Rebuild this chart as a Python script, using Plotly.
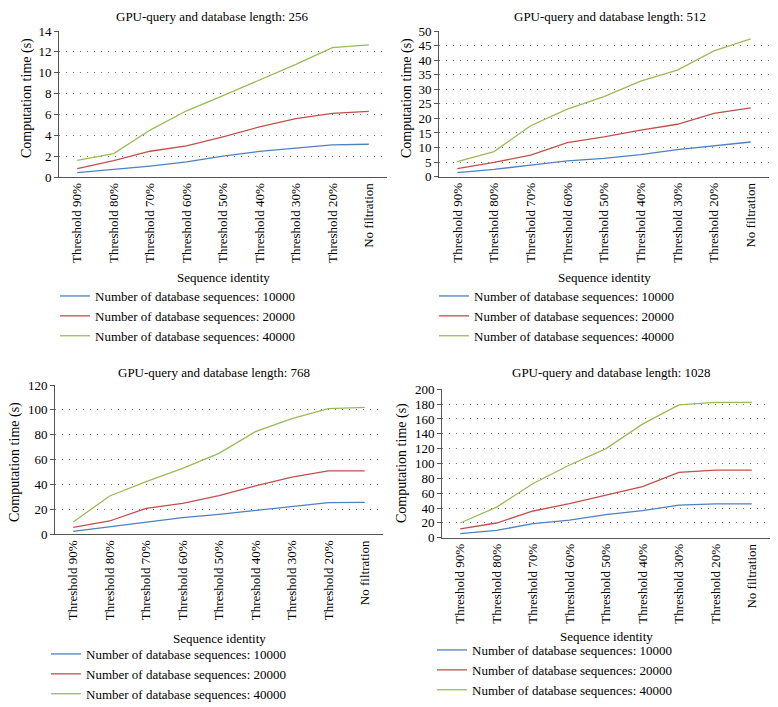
import plotly.graph_objects as go

# The page body has an 8px margin, so the figure is drawn 8px in from the window corner.
OFF = 8
W, H = 778 - OFF, 707 - OFF

categories = ["Threshold 90%", "Threshold 80%", "Threshold 70%", "Threshold 60%",
              "Threshold 50%", "Threshold 40%", "Threshold 30%", "Threshold 20%",
              "No filtration"]
series_names = ["Number of database sequences: 10000",
                "Number of database sequences: 20000",
                "Number of database sequences: 40000"]
colors = ["#4F81BD", "#C0504D", "#9BBB59"]

titles = ["GPU-query and database length: 256", "GPU-query and database length: 512",
          "GPU-query and database length: 768", "GPU-query and database length: 1028"]

len256_10000 = [0.42, 0.7, 1.05, 1.44, 2.0, 2.45, 2.8, 3.08, 3.14]
len256_20000 = [0.8, 1.57, 2.47, 2.98, 3.85, 4.8, 5.6, 6.1, 6.3]
len256_40000 = [1.6, 2.24, 4.5, 6.35, 7.8, 9.3, 10.8, 12.4, 12.66]

len512_10000 = [1.4, 2.5, 4.0, 5.4, 6.3, 7.6, 9.3, 10.6, 11.9]
len512_20000 = [2.75, 4.9, 7.4, 11.7, 13.7, 16.0, 18.0, 21.7, 23.6]
len512_40000 = [5.15, 8.6, 17.5, 23.2, 27.5, 32.8, 36.6, 43.2, 47.3]

len768_10000 = [2.4, 6.2, 9.9, 13.4, 16.0, 19.0, 22.5, 25.5, 25.7]
len768_20000 = [5.6, 10.7, 20.9, 24.9, 31.0, 39.0, 46.0, 51.0, 51.0]
len768_40000 = [9.9, 30.8, 42.4, 53.0, 65.0, 82.5, 93.0, 101.0, 102.0]

len1028_10000 = [5.4, 9.9, 18.9, 23.8, 31.0, 36.4, 44.0, 45.5, 45.5]
len1028_20000 = [12.0, 19.8, 36.0, 45.8, 57.5, 68.8, 88.0, 91.0, 91.0]
len1028_40000 = [19.8, 41.3, 73.0, 98.0, 120.0, 153.0, 179.0, 182.5, 182.5]

panel_data = [
    [len256_10000, len256_20000, len256_40000],
    [len512_10000, len512_20000, len512_40000],
    [len768_10000, len768_20000, len768_40000],
    [len1028_10000, len1028_20000, len1028_40000],
]
y_max = [14, 50, 120, 200]
y_dtick = [2, 5, 20, 20]

# layout in window pixels: (left, right, top, bottom)
boxes = [(59, 387, 31, 177), (439, 769, 31, 176.7), (55, 383, 385, 534.3), (442, 770, 389.3, 537.7)]
title_pos = [(213, 8), (610, 8), (214, 364), (611, 364)]   # top edge of title box
ytitle_pos = [(27, 98), (407, 98), (15, 462), (402, 463)]
xtitle_pos = [(223, 277), (604, 277), (220, 638), (606, 636)]
legend_pos = [(55, 281), (434, 281), (46, 639), (432, 635)]


def fx(px):
    return (px - OFF) / W


def fy(py):
    return 1 - (py - OFF) / H


FONT = "Liberation Serif, Times New Roman, DejaVu Serif, serif"
fig = go.Figure()
annotations = []
layout = {}

for i in range(4):
    ax = "" if i == 0 else str(i + 1)
    leg = "legend" if i == 0 else "legend" + str(i + 1)
    for s in range(3):
        fig.add_trace(go.Scatter(
            x=categories, y=panel_data[i][s], name=series_names[s], mode="lines",
            line=dict(color=colors[s], width=1.3),
            xaxis="x" + ax, yaxis="y" + ax, legend=leg, showlegend=True))
    l, r, t, b = boxes[i]
    layout["xaxis" + ax] = dict(
        domain=[fx(l), fx(r)], anchor="y" + ax, type="category", automargin=False,
        range=[-0.5, 8.5], tickangle=-90, showgrid=False, showline=True,
        linecolor="#555", linewidth=1, ticks="", tickfont=dict(family=FONT, size=13, color="#000"),
        fixedrange=True)
    layout["yaxis" + ax] = dict(
        domain=[fy(b), fy(t)], anchor="x" + ax, range=[0, y_max[i]], automargin=False,
        dtick=y_dtick[i], tick0=0, showgrid=True, gridcolor="#777", gridwidth=1,
        griddash="1px,6px", zeroline=False, showline=True, linecolor="#555",
        linewidth=1, ticks="outside", ticklen=4, tickcolor="#555",
        tickfont=dict(family=FONT, size=13, color="#000"), fixedrange=True)
    lx, ly = legend_pos[i]
    layout[leg] = dict(
        x=fx(lx), y=fy(ly), xanchor="left", yanchor="top", orientation="v",
        font=dict(family=FONT, size=13, color="#000"), bgcolor="rgba(0,0,0,0)",
        itemwidth=30, tracegroupgap=0)
    tx, ty = title_pos[i]
    annotations.append(dict(text=titles[i], x=fx(tx), y=fy(ty), xref="paper", yref="paper",
                            showarrow=False, xanchor="center", yanchor="top", borderpad=0,
                            font=dict(family=FONT, size=13, color="#000")))
    yx, yy = ytitle_pos[i]
    annotations.append(dict(text="Computation time (s)", x=fx(yx), y=fy(yy), xref="paper",
                            yref="paper", showarrow=False, textangle=-90, xanchor="center",
                            yanchor="middle", font=dict(family=FONT, size=14, color="#000")))
    xx, xy = xtitle_pos[i]
    annotations.append(dict(text="Sequence identity", x=fx(xx), y=fy(xy), xref="paper",
                            yref="paper", showarrow=False, xanchor="center", yanchor="middle",
                            font=dict(family=FONT, size=13, color="#000")))

fig.update_layout(**layout)
fig.update_layout(width=W, height=H, margin=dict(l=0, r=0, t=0, b=0, autoexpand=False),
                  paper_bgcolor="white", plot_bgcolor="white",
                  annotations=annotations, font=dict(family=FONT))
fig.write_html("out.html")
